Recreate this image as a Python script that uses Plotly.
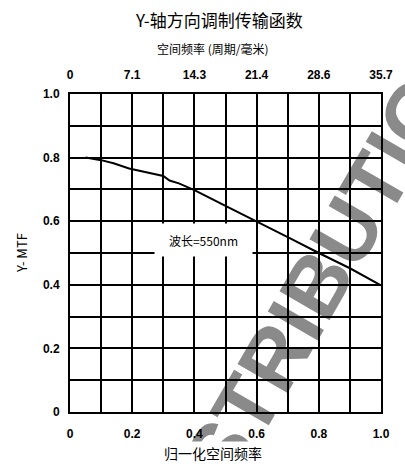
import plotly.graph_objects as go

# Y-direction MTF, normalised spatial frequency vs modulation
norm_freq = [0.05, 0.10, 0.14, 0.19, 0.30, 0.32, 0.35, 0.40, 0.50, 0.60, 0.70, 0.80, 0.90, 1.00]
mtf_y = [0.800, 0.792, 0.782, 0.766, 0.742, 0.728, 0.719, 0.698, 0.648, 0.600, 0.550, 0.500, 0.452, 0.398]

max_freq = 35.7  # cycles per mm at normalised frequency 1.0
bottom_ticks = [0, 0.2, 0.4, 0.6, 0.8, 1.0]
bottom_tick_labels = ["0", "0.2", "0.4", "0.6", "0.8", "1.0"]
top_ticks = [0, 7.14, 14.28, 21.42, 28.56, 35.7]
top_tick_labels = ["0", "7.1", "14.3", "21.4", "28.6", "35.7"]
y_ticks = [0, 0.2, 0.4, 0.6, 0.8, 1.0]
y_tick_labels = ["0", "0.2", "0.4", "0.6", "0.8", "1.0"]

title_text = "Y-轴方向调制传输函数"
subtitle_text = "空间频率 (周期/毫米)"
x_title = "归一化空间频率"
y_title = "Y- MTF"
wavelength_note = "波长=550nm"
stamp_text = "DISTRIBUTION"

cjk = "Noto Sans CJK SC"
num_font = dict(family="Liberation Sans", size=12, color="black", weight="bold")

fig = go.Figure()
fig.add_trace(go.Scatter(
    x=norm_freq, y=mtf_y, mode="lines",
    line=dict(color="black", width=2), showlegend=False, hoverinfo="skip",
))
# same curve on the cycles/mm axis so the top scale is laid out
fig.add_trace(go.Scatter(
    x=[f * max_freq for f in norm_freq], y=mtf_y, mode="lines", xaxis="x2",
    line=dict(color="black", width=2), opacity=0, showlegend=False, hoverinfo="skip",
))

grid = dict(showgrid=True, gridcolor="black", gridwidth=2)
fig.update_layout(
    width=405, height=464,
    margin=dict(l=70, r=15, t=94, b=52),
    paper_bgcolor="white", plot_bgcolor="rgba(0,0,0,0)",
    xaxis=dict(
        range=[0, 1], tickvals=bottom_ticks, ticktext=bottom_tick_labels,
        tickfont=num_font, ticks="", ticklabelstandoff=10,
        showline=True, linecolor="black", linewidth=2, mirror=True,
        minor=dict(dtick=0.1, showgrid=True, gridcolor="black", gridwidth=2),
        zeroline=False, fixedrange=True, **grid,
    ),
    xaxis2=dict(
        range=[0, max_freq], overlaying="x", side="top",
        tickvals=top_ticks, ticktext=top_tick_labels, tickfont=num_font,
        ticks="", ticklabelstandoff=12, showgrid=False, zeroline=False,
        showline=False, fixedrange=True,
    ),
    yaxis=dict(
        range=[0, 1], tickvals=y_ticks, ticktext=y_tick_labels,
        tickfont=num_font, ticks="", ticklabelstandoff=6,
        showline=True, linecolor="black", linewidth=2, mirror=True,
        minor=dict(dtick=0.1, showgrid=True, gridcolor="black", gridwidth=2),
        zeroline=False, fixedrange=True, **grid,
    ),
)

# faint diagonal stamp behind the grid
fig.add_shape(
    type="rect", xref="paper", yref="paper",
    x0=0.6, x1=0.92, y0=0.27, y1=0.52, layer="below",
    line=dict(width=0), fillcolor="rgba(0,0,0,0)",
    label=dict(text=stamp_text, textangle=-60, textposition="middle center",
               font=dict(family="Liberation Sans", size=84, color="#8a8a8a", weight="bold")),
)

fig.add_annotation(
    xref="paper", yref="paper", x=0.48, y=1.0, yshift=75, yanchor="middle",
    text=title_text, showarrow=False,
    font=dict(family=cjk, size=17, color="black"),
)
fig.add_annotation(
    xref="paper", yref="paper", x=0.46, y=1.0, yshift=46, yanchor="middle",
    text=subtitle_text, showarrow=False,
    font=dict(family=cjk, size=12, color="black"),
)
fig.add_annotation(
    xref="paper", yref="paper", x=0.46, y=0, yshift=-41, yanchor="middle",
    text=x_title, showarrow=False, bgcolor="white",
    font=dict(family=cjk, size=14, color="black"),
)
fig.add_annotation(
    xref="paper", yref="paper", x=0, xshift=-49, y=0.5, xanchor="center", yanchor="middle",
    text=y_title, showarrow=False, textangle=-90,
    font=dict(family=cjk, size=13, color="black"),
)
fig.add_annotation(
    x=0.43, y=0.54, text=wavelength_note, showarrow=False,
    bgcolor="white", width=95, height=30,
    font=dict(family=cjk, size=12, color="black"),
)

fig.write_html("out.html")
